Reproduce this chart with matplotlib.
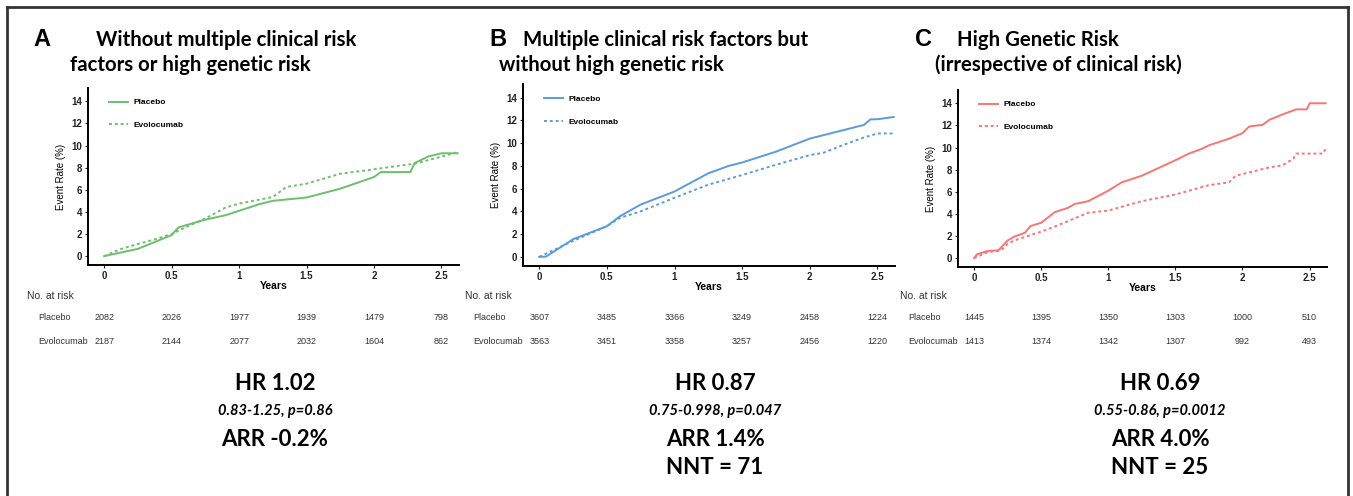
import matplotlib
matplotlib.use("Agg")
import matplotlib.pyplot as plt
from matplotlib.transforms import blended_transform_factory
from matplotlib.lines import Line2D

W, H = 1353, 496

# ---- data ----
years_ticks = [0, 0.5, 1, 1.5, 2, 2.5]

a_pl_t = [0, 0.25, 0.5, 0.55, 0.75, 0.9, 1.0, 1.15, 1.25, 1.5, 1.75, 2.0, 2.05, 2.27, 2.3, 2.4, 2.5, 2.62]
a_pl_y = [0, 0.66, 1.9, 2.6, 3.3, 3.7, 4.1, 4.7, 5.0, 5.3, 6.1, 7.15, 7.6, 7.6, 8.4, 9.0, 9.3, 9.3]
a_ev_t = [0, 0.12, 0.25, 0.4, 0.5, 0.6, 0.75, 0.9, 1.0, 1.25, 1.35, 1.5, 1.75, 2.0, 2.2, 2.3, 2.5, 2.62]
a_ev_y = [0, 0.63, 1.1, 1.6, 2.0, 2.6, 3.4, 4.4, 4.75, 5.35, 6.25, 6.55, 7.45, 7.85, 8.2, 8.35, 9.0, 9.4]

b_pl_t = [0, 0.05, 0.25, 0.5, 0.6, 0.75, 1.0, 1.25, 1.4, 1.5, 1.75, 2.0, 2.25, 2.4, 2.45, 2.5, 2.62]
b_pl_y = [0, 0.03, 1.55, 2.7, 3.6, 4.6, 5.75, 7.35, 8.0, 8.3, 9.25, 10.4, 11.15, 11.6, 12.1, 12.1, 12.3]
b_ev_t = [0, 0.25, 0.5, 0.6, 0.75, 1.0, 1.25, 1.5, 1.75, 2.0, 2.1, 2.25, 2.4, 2.5, 2.62]
b_ev_y = [0, 1.4, 2.7, 3.45, 4.0, 5.2, 6.35, 7.2, 8.1, 8.95, 9.15, 9.85, 10.5, 10.85, 10.85]

c_pl_t = [0, 0.02, 0.1, 0.18, 0.25, 0.3, 0.38, 0.42, 0.5, 0.6, 0.7, 0.75, 0.85, 1.0, 1.1, 1.25,
          1.5, 1.6, 1.7, 1.75, 1.9, 2.0, 2.05, 2.15, 2.2, 2.3, 2.4, 2.48, 2.5, 2.62]
c_pl_y = [0, 0.34, 0.65, 0.7, 1.6, 1.95, 2.3, 2.9, 3.2, 4.15, 4.55, 4.9, 5.15, 6.1, 6.85, 7.45,
          8.85, 9.45, 9.9, 10.2, 10.8, 11.3, 11.9, 12.05, 12.5, 13.0, 13.45, 13.45, 14.0, 14.0]
c_ev_t = [0, 0.1, 0.2, 0.25, 0.3, 0.5, 0.6, 0.75, 0.85, 1.0, 1.25, 1.5, 1.75, 1.9, 1.95, 2.0,
          2.1, 2.2, 2.3, 2.38, 2.4, 2.5, 2.6, 2.62]
c_ev_y = [0, 0.55, 0.7, 1.3, 1.6, 2.4, 2.85, 3.6, 4.1, 4.3, 5.15, 5.75, 6.6, 6.85, 7.45, 7.6,
          7.9, 8.2, 8.4, 9.0, 9.45, 9.45, 9.45, 9.9]

a_risk_pl = [2082, 2026, 1977, 1939, 1479, 798]
a_risk_ev = [2187, 2144, 2077, 2032, 1604, 862]
b_risk_pl = [3607, 3485, 3366, 3249, 2458, 1224]
b_risk_ev = [3563, 3451, 3358, 3257, 2456, 1220]
c_risk_pl = [1445, 1395, 1350, 1303, 1000, 510]
c_risk_ev = [1413, 1374, 1342, 1307, 992, 493]

letters = ["A", "B", "C"]
titles = [["Without multiple clinical risk", "factors or high genetic risk"],
          ["Multiple clinical risk factors but", "without high genetic risk"],
          ["High Genetic Risk", "(irrespective of clinical risk)"]]
hr_text = ["HR 1.02", "HR 0.87", "HR 0.69"]
ci_text = ["0.83-1.25, p=0.86", "0.75-0.998, p=0.047", "0.55-0.86, p=0.0012"]
arr_text = ["ARR -0.2%", "ARR 1.4%", "ARR 4.0%"]
nnt_text = [None, "NNT = 71", "NNT = 25"]
colors = ["#6cbf6c", "#5a9be0", "#fb7474"]

panels = [
    (a_pl_t, a_pl_y, a_ev_t, a_ev_y, a_risk_pl, a_risk_ev),
    (b_pl_t, b_pl_y, b_ev_t, b_ev_y, b_risk_pl, b_risk_ev),
    (c_pl_t, c_pl_y, c_ev_t, c_ev_y, c_risk_pl, c_risk_ev),
]

# pixel layout (left, top, width, height)
ax_boxes = [(88, 88, 371, 177), (523, 84, 372, 182), (958, 90, 369, 177)]
letter_x = [33, 489, 915]
title_x1 = [96, 523, 957]
title_x2 = [70, 499, 935]
label_x = [27, 465, 900]
row_x = [38, 473, 908]
stat_x = [275, 715, 1160]


def fx(px):
    return px / W


def fy(py):
    return 1 - py / H


fig = plt.figure(figsize=(W / 100, H / 100), dpi=100)
fig.patch.set_facecolor("white")

# outer frame
for xs, ys in [([7, 7], [H + 5, 7]), ([7, 1348], [7, 7]), ([1348, 1348], [7, H + 5])]:
    fig.add_artist(Line2D([fx(x) for x in xs], [fy(y) for y in ys], color="#333333", lw=2,
                          transform=fig.transFigure))

for i, (pt, py, et, ey, rp, re) in enumerate(panels):
    l, t, w, h = ax_boxes[i]
    ax = fig.add_axes([fx(l), fy(t + h), w / W, h / H])
    c = colors[i]
    ax.plot(pt, py, color=c, lw=1.4, label="Placebo")
    ax.plot(et, ey, color=c, lw=1.4, linestyle=(0, (1.5, 1.5)), label="Evolocumab")
    ax.set_xlim(-0.12, 2.63)
    ax.set_ylim(-0.8, 15.2)
    ax.set_xticks(years_ticks)
    ax.set_xticklabels(["0", "0.5", "1", "1.5", "2", "2.5"])
    ax.set_yticks(range(0, 15, 2))
    for s in ["top", "right"]:
        ax.spines[s].set_visible(False)
    for s in ["left", "bottom"]:
        ax.spines[s].set_linewidth(1.4)
    ax.tick_params(length=2.5, width=0.8, labelsize=7, pad=1.5, colors="#222222")
    for lab in ax.get_xticklabels() + ax.get_yticklabels():
        lab.set_fontweight("bold")
        lab.set_family("Liberation Sans")
    ax.set_xlabel("Years", fontsize=7.5, fontweight="bold", family="Liberation Sans", labelpad=0)
    ax.set_ylabel("Event Rate (%)", fontsize=7, family="Liberation Sans", labelpad=4)
    ax.legend(loc="upper left", bbox_to_anchor=(0.057, 0.94), frameon=False, borderpad=0,
              borderaxespad=0, handlelength=2.3, handletextpad=0.6, labelspacing=1.8,
              prop={"family": "Liberation Sans", "weight": "bold", "size": 6})

    # titles
    fig.text(fx(letter_x[i]), fy(40), letters[i], fontsize=17, fontweight="bold",
             family="Liberation Sans", ha="left", va="center")
    fig.text(fx(title_x1[i]), fy(40), titles[i][0], fontsize=14.7, fontweight="bold",
             family="Lato", ha="left", va="center")
    fig.text(fx(title_x2[i]), fy(65), titles[i][1], fontsize=14.7, fontweight="bold",
             family="Lato", ha="left", va="center")

    # risk table
    tr = blended_transform_factory(ax.transData, fig.transFigure)
    fig.text(fx(label_x[i]), fy(296), "No. at risk", fontsize=7.5, color="#333333",
             family="Liberation Sans", ha="left", va="center")
    fig.text(fx(row_x[i]), fy(318), "Placebo", fontsize=6.5, color="#333333",
             family="Liberation Sans", ha="left", va="center")
    fig.text(fx(row_x[i]), fy(342), "Evolocumab", fontsize=6.5, color="#333333",
             family="Liberation Sans", ha="left", va="center")
    for xv, n1, n2 in zip(years_ticks, rp, re):
        ax.text(xv, fy(318), str(n1), transform=tr, fontsize=6.5, color="#333333",
                family="Liberation Sans", ha="center", va="center")
        ax.text(xv, fy(342), str(n2), transform=tr, fontsize=6.5, color="#333333",
                family="Liberation Sans", ha="center", va="center")

    # summary statistics
    fig.text(fx(stat_x[i]), fy(384), hr_text[i], fontsize=16, fontweight="bold",
             family="Lato", ha="center", va="center")
    fig.text(fx(stat_x[i]), fy(411), ci_text[i], fontsize=10.5, fontweight="bold", style="italic",
             family="Lato", ha="center", va="center")
    fig.text(fx(stat_x[i]), fy(439), arr_text[i], fontsize=16, fontweight="bold",
             family="Lato", ha="center", va="center")
    if nnt_text[i]:
        fig.text(fx(stat_x[i]), fy(467), nnt_text[i], fontsize=16, fontweight="bold",
                 family="Lato", ha="center", va="center")

fig.savefig("out.png", dpi=100)
